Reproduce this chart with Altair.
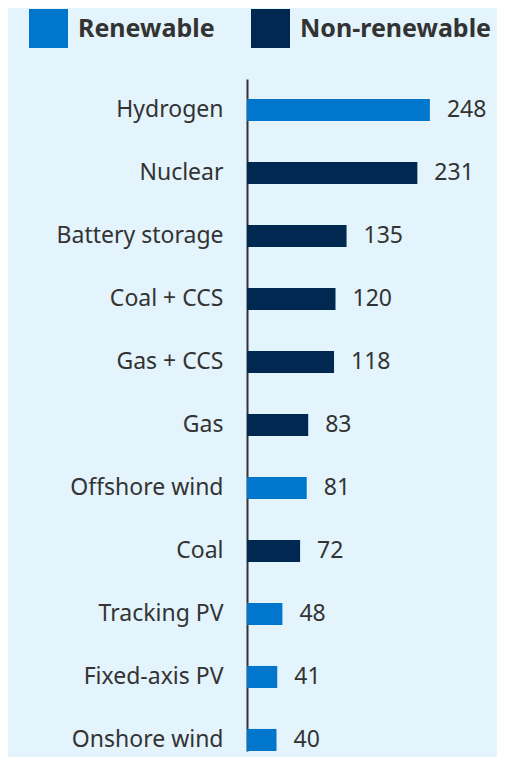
import altair as alt
import pandas as pd

categories = ["Hydrogen", "Nuclear", "Battery storage", "Coal + CCS", "Gas + CCS", "Gas",
              "Offshore wind", "Coal", "Tracking PV", "Fixed-axis PV", "Onshore wind"]
values = [248, 231, 135, 120, 118, 83, 81, 72, 48, 41, 40]
types = ["Renewable", "Non-renewable", "Non-renewable", "Non-renewable", "Non-renewable",
         "Non-renewable", "Renewable", "Non-renewable", "Renewable", "Renewable", "Renewable"]
type_order = ["Renewable", "Non-renewable"]
type_colors = ["#0077cc", "#002850"]

df = pd.DataFrame({"tech": categories, "value": values, "type": types})

FONT = "Noto Sans"
TEXT = "#333333"

y_enc = alt.Y("tech:N", sort=categories, title=None,
              scale=alt.Scale(paddingInner=0.65, paddingOuter=0.1587, align=1),
              axis=alt.Axis(ticks=False, labelPadding=24, labelFontSize=23, labelColor=TEXT,
                            labelFont=FONT, domainColor=TEXT, domainWidth=2, labelLimit=300))
x_enc = alt.X("value:Q", title=None, scale=alt.Scale(domain=[0, 339], nice=False),
              axis=None)

bars = alt.Chart(df).mark_bar().encode(
    y=y_enc,
    x=x_enc,
    color=alt.Color("type:N", sort=type_order,
                    scale=alt.Scale(domain=type_order, range=type_colors),
                    legend=alt.Legend(title=None, orient="none", legendX=-218, legendY=-70,
                                      direction="horizontal", symbolType="square",
                                      symbolSize=1521, symbolStrokeWidth=0, symbolOpacity=1,
                                      labelFontSize=25, labelFontWeight="bold",
                                      labelFont=FONT, labelColor=TEXT, labelOffset=10,
                                      columnPadding=36, labelLimit=400)),
)

labels = alt.Chart(df).mark_text(align="left", baseline="middle", dx=17, fontSize=23,
                                 font=FONT, color=TEXT).encode(
    y=alt.Y("tech:N", sort=categories),
    x=alt.X("value:Q"),
    text=alt.Text("value:Q"),
)

chart = alt.layer(bars, labels).properties(
    width=250, height=672,
    autosize=alt.AutoSizeParams(type="none"),
    padding={"left": 239, "top": 71, "right": 0, "bottom": 6},
    background="#e3f4fc",
).configure_view(stroke=None)

chart.save("out.html", embed_options={"renderer": "svg", "actions": False})
